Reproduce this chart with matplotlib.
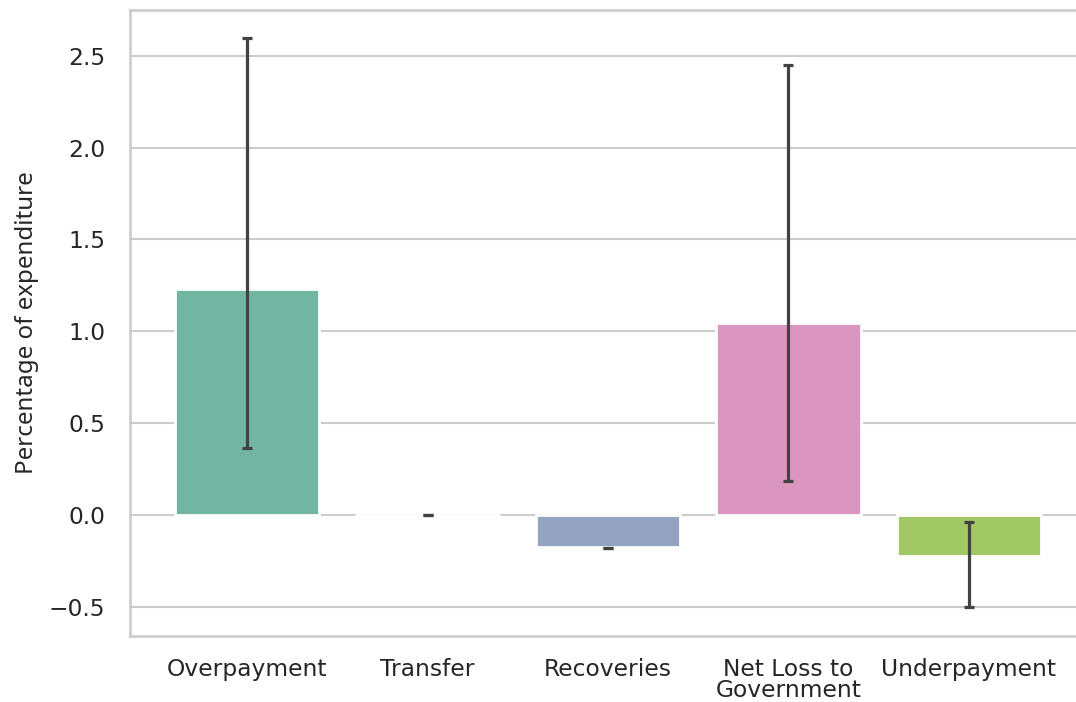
import numpy as np
import matplotlib
matplotlib.use("Agg")
import matplotlib.pyplot as plt
import seaborn as sns

# values
categories = ["Overpayment", "Transfer", "Recoveries", "Net Loss to\nGovernment", "Underpayment"]
values = [1.23, 0.0, -0.177, 1.045, -0.222]
ci_low = [0.365, 0.0, -0.182, 0.183, -0.503]
ci_high = [2.598, 0.0, -0.179, 2.450, -0.038]
yticks = [-0.5, 0.0, 0.5, 1.0, 1.5, 2.0, 2.5]

sns.set_theme(style="whitegrid", context="talk")
plt.rcParams["font.family"] = ["DejaVu Sans"]

colors = sns.color_palette("Set2", len(categories), desat=0.75)

fig = plt.figure(figsize=(10.76, 7.02), dpi=100)
ax = fig.add_axes([130 / 1076, 66 / 702, 956 / 1076, 626 / 702])

x = np.arange(len(categories))
ax.bar(x, values, width=0.8, color=colors, edgecolor="white", linewidth=2, zorder=2)

# error bars drawn from the interval ends
lo = np.array(ci_low)
hi = np.array(ci_high)
mid = (lo + hi) / 2
ax.errorbar(x, mid, yerr=(hi - lo) / 2, fmt="none", ecolor="#424242",
            elinewidth=2.3, capsize=3.6, capthick=2.3, zorder=3)

ax.set_xlim(-0.65, 4.65)
ax.set_ylim(-0.66, 2.75)
ax.set_yticks(yticks)
ax.set_xticks(x)
ax.set_xticklabels(categories, linespacing=0.9)

ax.grid(True, axis="y", color="#cccccc", linewidth=1.5)
ax.grid(False, axis="x")
ax.set_axisbelow(True)
for s in ax.spines.values():
    s.set_color("#cccccc")
    s.set_linewidth(1.9)

ax.tick_params(axis="both", length=0, labelsize=16.8, labelcolor="#262626")
ax.tick_params(axis="y", pad=18)
ax.tick_params(axis="x", pad=16)

ax.set_ylabel("Percentage of expenditure", fontsize=17.4, family=["Noto Sans", "DejaVu Sans"],
              color="#262626")
ax.yaxis.set_label_coords(-0.095, 0.5)

fig.savefig("out.png", dpi=100)
